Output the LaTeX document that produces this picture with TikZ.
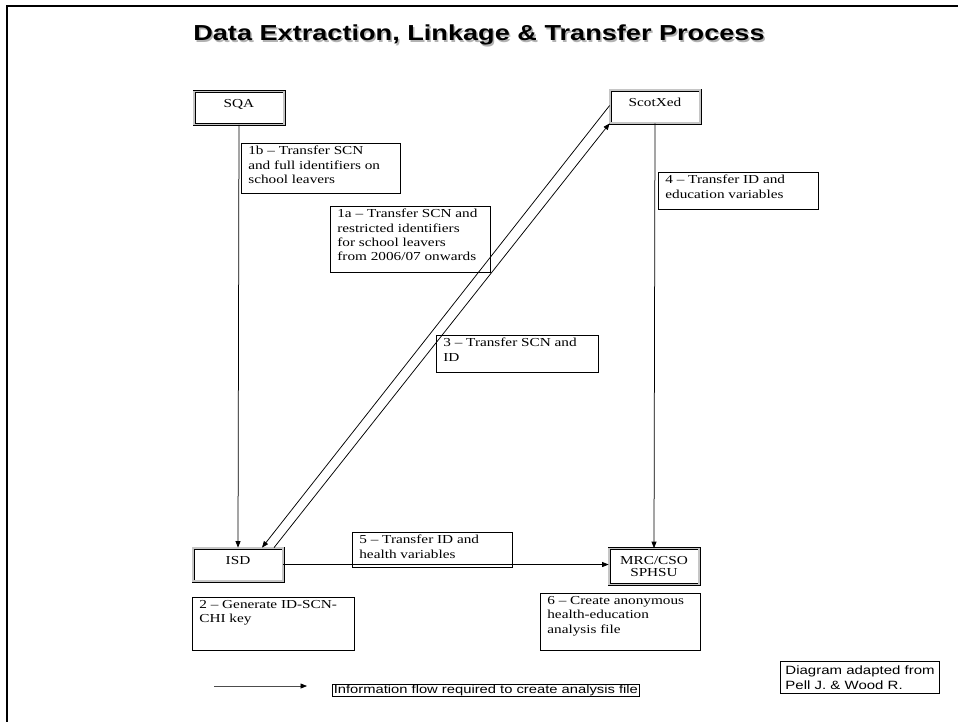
\documentclass[tikz,border=0pt]{standalone}
\usepackage{fontspec}
\setmainfont{Liberation Serif}[FakeStretch=1.25]
\newfontfamily\arialw{Liberation Sans}[FakeStretch=1.25]
\usetikzlibrary{arrows.meta,calc}
\newcommand{\lbtxt}[3]{\parbox[c][#1][t]{#2}{\raggedright #3}}
\begin{document}
\begin{tikzpicture}[x=1pt,y=-1pt,
  serif12/.style={font=\fontsize{12.2}{14.3}\selectfont},
  orgbox/.style={draw=black, line width=0.75pt, double=gray!45, double distance=1.5pt,
     minimum width=90pt, serif12, align=center, inner xsep=2pt},
  onebox/.style={orgbox, text height=9pt, text depth=10pt, inner ysep=7pt},
  lbl/.style={draw=black, line width=0.7pt, anchor=north west, inner xsep=7pt, inner ysep=3pt, serif12},
  flow/.style={draw=black, line width=0.75pt, -{Triangle[length=6.5pt,width=5pt,color=black]}},
]
\useasboundingbox (0,0) rectangle (958,721);
% slide frame
\draw[line width=2.5pt] (7,722) -- (7,6) -- (959,6);
% title
\node[text=gray!60] at (480.5,36.5) {\arialw\bfseries\fontsize{21.7}{24}\selectfont Data Extraction, Linkage \& Transfer Process};
\node (title) at (479,35) {\arialw\bfseries\fontsize{21.7}{24}\selectfont Data Extraction, Linkage \& Transfer Process};

% organisations
\node[onebox] (SQA) at (239,108) {SQA};
\node[onebox] (ScotXed) at (655,106.5) {ScotXed};
\node[onebox] (ISD) at (238,564.5) {ISD};
\node[orgbox, minimum height=36pt] (MRC) at (654,566.5) {MRC/CSO\\[-1.5pt]SPHSU};

% flows
\draw[flow] (SQA.south) -- (ISD.north);
\draw[flow] (ScotXed.south) -- (MRC.north);
\draw[flow] (ISD.east) -- (ISD.east -| MRC.west);
\draw[flow] ([xshift=36pt]ISD.north) -- (ScotXed.south west);
\draw[flow] ([yshift=1pt]ScotXed.west) -- ([xshift=24pt]ISD.north);

% labels
\node[lbl] (l1b) at (241,143) {\lbtxt{44pt}{145pt}{1b -- Transfer SCN\\and full identifiers on\\school leavers}};
\node[lbl] (l1a) at (330,206) {\lbtxt{60pt}{146pt}{1a -- Transfer SCN and\\restricted identifiers\\for school leavers\\from 2006/07 onwards}};
\node[lbl] (l3) at (436,335) {\lbtxt{31pt}{148pt}{3 -- Transfer SCN and\\ID}};
\node[lbl] (l4) at (658,172) {\lbtxt{31pt}{146pt}{4 -- Transfer ID and\\education variables}};
\node[lbl] (l5) at (352,532) {\lbtxt{29pt}{146pt}{5 -- Transfer ID and\\health variables}};
\node[lbl] (l2) at (192,597) {\lbtxt{47pt}{148pt}{2 -- Generate ID-SCN-\\CHI key}};
\node[lbl] (l6) at (540,593) {\lbtxt{51pt}{146pt}{6 -- Create anonymous\\health-education\\analysis file}};

% legend
\coordinate (legA) at (214,686);
\coordinate (legB) at (307,686);
\draw[flow, draw=gray!60!black] (legA) -- (legB);
\node[draw=black, line width=0.6pt, inner xsep=1.5pt, inner ysep=0.5pt, anchor=west,
  font=\arialw\fontsize{11.8}{13}\selectfont] (legtxt) at (332,690)
  {Information flow required to create analysis file};

\node[draw=black, line width=0.6pt, anchor=north east, align=left, inner xsep=5pt, inner ysep=4pt,
  font=\arialw\fontsize{12}{15}\selectfont] (src) at (940,661)
  {Diagram adapted from\\Pell J. \& Wood R.};
\end{tikzpicture}
\end{document}
